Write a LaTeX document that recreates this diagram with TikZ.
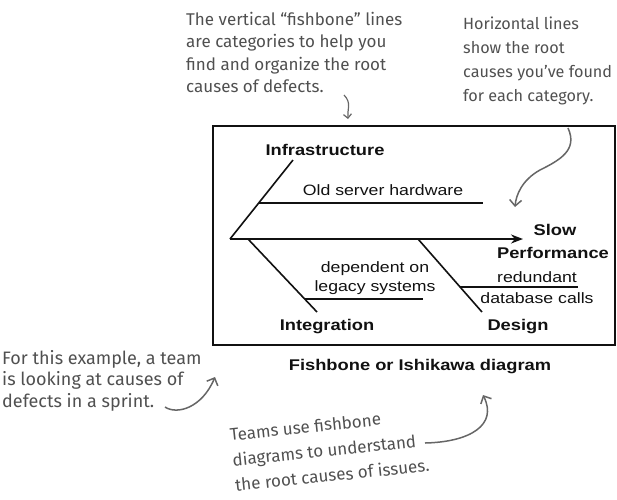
\documentclass[tikz,border=0pt]{standalone}
\usepackage{fontspec}
\setmainfont{Liberation Sans}[FakeStretch=1.18]
\newfontfamily\handfont{Fira Sans}
\usetikzlibrary{arrows.meta,positioning,calc}
\definecolor{Ink}{HTML}{111111}
\definecolor{Pencil}{HTML}{505050}
\definecolor{PencilLine}{HTML}{666666}

\begin{document}
\begin{tikzpicture}[x=1pt,y=-1pt,
  head/.style={font=\fontsize{15.5}{18}\selectfont\bfseries,inner sep=0pt,text=Ink},
  cause/.style={font=\fontsize{15}{18}\selectfont,inner sep=0pt,text=Ink},
  note/.style={font=\handfont\fontsize{17}{22.5}\selectfont,text=Pencil,align=left,inner sep=0pt,anchor=north west},
  bone/.style={Ink,line width=1.6pt},
  pointer/.style={PencilLine,line width=1.5pt,-{Straight Barb[length=6pt,width=12pt]}}]
\useasboundingbox (0,0) rectangle (617,499);
% frame round the fish
\draw[Ink,line width=2pt] (213,126) rectangle (615,345);
% spine and bones
\coordinate (tail) at (230,239);
\coordinate (tip) at (523,239);
\coordinate (infratop) at (293,160);
\coordinate (integfoot) at (248,239);
\coordinate (integend) at (317,312);
\coordinate (designfoot) at (418,239);
\coordinate (designend) at (482,312);
\draw[bone,line width=2pt,-{Stealth[length=12pt,width=9pt]}] (tail) -- (tip);
\draw[bone] (tail) -- (infratop);
\draw[bone] (integfoot) -- (integend);
\draw[bone] (designfoot) -- (designend);
% causes
\coordinate (oldA) at (259,203);
\coordinate (oldB) at (483,203);
\coordinate (legA) at (305,299);
\coordinate (legB) at (423,299);
\coordinate (redA) at (460,287);
\coordinate (redB) at (578,287);
\draw[bone] (oldA) -- (oldB);
\draw[bone] (legA) -- (legB);
\draw[bone] (redA) -- (redB);
% labels
\node[head] (infra) at (325,150) {Infrastructure};
\node[head] (integ) at (327,327) {Integration};
\node[head] (design) at (518,327) {Design};
\node[head] (slow) at (555,230) {Slow};
\node[head] (perf) at (553,253) {Performance};
\node[cause] (oldhw) at (383,190) {Old server hardware};
\node[cause] (dep) at (375,269) {dependent on};
\node[cause] (legacy) at (375,288) {legacy systems};
\node[cause] (redund) at (537,277) {redundant};
\node[cause] (dbcalls) at (537,298) {database calls};
\node[font=\fontsize{15.5}{18}\selectfont\bfseries,inner sep=0pt,text=Ink] (caption) at (420,367) {Fishbone or Ishikawa diagram};
% handwritten notes
\node[note] (vnote) at (186,12) {The vertical “fishbone” lines\\are categories to help you\\find and organize the root\\causes of defects.};
\node[note,font=\handfont\fontsize{16.2}{24}\selectfont] (hnote) at (463,17) {Horizontal lines\\show the root\\causes you’ve found\\for each category.};
\node[note,font=\handfont\fontsize{18}{21.5}\selectfont] (ex) at (2,350) {For this example, a team\\is looking at causes of\\defects in a sprint.};
\node[note,rotate=6,font=\handfont\fontsize{17}{25.5}\selectfont] (teams) at (229,428) {Teams use fishbone\\diagrams to understand\\the root causes of issues.};
% pointers
\coordinate (vfrom) at (344,95);
\coordinate (vto) at (348,119);
\draw[pointer,line width=1.2pt,-{Straight Barb[length=4pt,width=8pt]}] (vfrom) .. controls (352,103) and (347,110) .. (vto);
\coordinate (hfrom) at (568,128);
\coordinate (hto) at (515,207);
\draw[pointer] (hfrom) .. controls (578,150) and (560,160) .. (540,170) .. controls (522,180) and (516,195) .. (hto);
\coordinate (exfrom) at (165,407);
\coordinate (exto) at (215,377);
\draw[pointer] (exfrom) .. controls (177,415) and (202,408) .. (exto);
\coordinate (tfrom) at (425,443);
\coordinate (tto) at (483,395);
\draw[pointer] (tfrom) .. controls (470,442) and (498,425) .. (tto);
\end{tikzpicture}
\end{document}
